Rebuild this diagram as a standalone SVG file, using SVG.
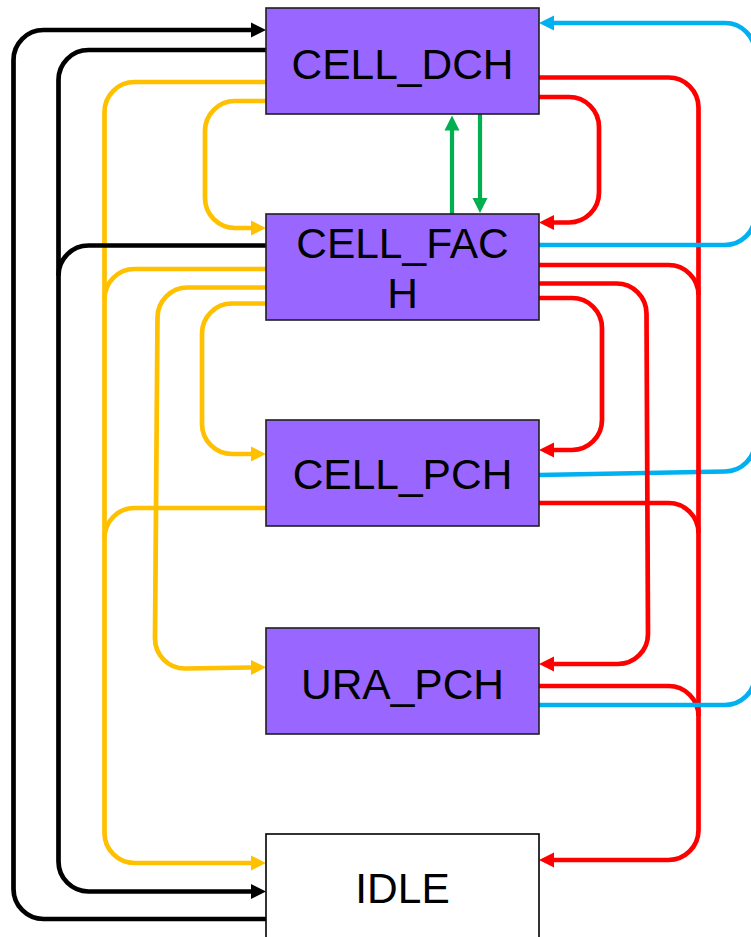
<svg xmlns="http://www.w3.org/2000/svg" width="751" height="937" viewBox="0 0 751 937">
<style>
.box{fill:#9966FF;stroke:#1f1f1f;stroke-width:1.6}
.idle{fill:#FFFFFF;stroke:#000000;stroke-width:1.6}
.lbl{font-family:"Liberation Sans",Arial,sans-serif;font-size:42.5px;fill:#000;text-anchor:middle}
.c{fill:none;stroke-width:4.7}
.k{stroke:#000000}
.y{stroke:#FFC000}
.r{stroke:#FF0000}
.b{stroke:#00B0F0}
.g{stroke:#00B050;stroke-width:4.2}
</style>
<defs>
<marker id="ak" markerUnits="userSpaceOnUse" markerWidth="16" markerHeight="16" viewBox="0 -8 16 16" refX="1" refY="0" orient="auto"><path d="M0,-7.5 L15,0 L0,7.5 Z" fill="#000000"/></marker>
<marker id="ay" markerUnits="userSpaceOnUse" markerWidth="16" markerHeight="16" viewBox="0 -8 16 16" refX="1" refY="0" orient="auto"><path d="M0,-7.5 L15,0 L0,7.5 Z" fill="#FFC000"/></marker>
<marker id="ar" markerUnits="userSpaceOnUse" markerWidth="16" markerHeight="16" viewBox="0 -8 16 16" refX="1" refY="0" orient="auto"><path d="M0,-7.5 L15,0 L0,7.5 Z" fill="#FF0000"/></marker>
<marker id="ab" markerUnits="userSpaceOnUse" markerWidth="16" markerHeight="16" viewBox="0 -8 16 16" refX="1" refY="0" orient="auto"><path d="M0,-7.5 L15,0 L0,7.5 Z" fill="#00B0F0"/></marker>
<marker id="ag" markerUnits="userSpaceOnUse" markerWidth="16" markerHeight="16" viewBox="0 -8 16 16" refX="1" refY="0" orient="auto"><path d="M0,-7.5 L15,0 L0,7.5 Z" fill="#00B050"/></marker>
</defs>
<g id="connectors">
<path class="c y" d="M266,82 H134.5 A30,30 0 0 0 104.5,112 V833 A30,30 0 0 0 134.5,863 H252" marker-end="url(#ay)"/>
<path class="c y" d="M266,269 H134.5 A30,30 0 0 0 104.5,299"/>
<path class="c y" d="M266,508 H134.5 A30,30 0 0 0 104.5,538"/>
<path class="c y" d="M266,101 H235 A30,30 0 0 0 205,131 V198 A30,30 0 0 0 235,228 H252" marker-end="url(#ay)"/>
<path class="c y" d="M266,287.5 H187.5 A30,30 0 0 0 157.5,317.5 L155,638 A30,30 0 0 0 185,668.5 L252,667.5" marker-end="url(#ay)"/>
<path class="c y" d="M266,303.5 H232 A30,30 0 0 0 202,333.5 V424 A30,30 0 0 0 232,454 H252" marker-end="url(#ay)"/>
<path class="c k" d="M266,919 H43.5 A30,30 0 0 1 13.5,889 V60 A30,30 0 0 1 43.5,30 H252" marker-end="url(#ak)"/>
<path class="c k" d="M266,50 H88.5 A30,30 0 0 0 58.5,80 V861.5 A30,30 0 0 0 88.5,891.5 H252" marker-end="url(#ak)"/>
<path class="c k" d="M266,245.5 H88.5 A30,30 0 0 0 58.5,275.5"/>
<path class="c b" d="M539,475 L725,471.5 A30,30 0 0 0 755,441.5 V215"/>
<path class="c r" d="M539,77.5 H668.5 A30,30 0 0 1 698.5,107.5 V830 A30,30 0 0 1 668.5,860 H553" marker-end="url(#ar)"/>
<path class="c r" d="M539,265 H668.5 A30,30 0 0 1 698.5,295"/>
<path class="c r" d="M539,503 H668.5 A30,30 0 0 1 698.5,533"/>
<path class="c r" d="M539,686 H668.5 A30,30 0 0 1 698.5,716"/>
<path class="c r" d="M539,97 H569 A30,30 0 0 1 599,127 V192.5 A30,30 0 0 1 569,222.5 H553" marker-end="url(#ar)"/>
<path class="c r" d="M539,283.5 H616.5 A30,30 0 0 1 646.5,313.5 L648,634 A30,30 0 0 1 618,664 H553" marker-end="url(#ar)"/>
<path class="c r" d="M539,298 H572 A30,30 0 0 1 602,328 V420 A30,30 0 0 1 572,450 H553" marker-end="url(#ar)"/>
<path class="c b" d="M539,245 H725 A30,30 0 0 0 755,215 V53 A30,30 0 0 0 725,23 H553" marker-end="url(#ab)"/>
<path class="c b" d="M539,705 H725 A30,30 0 0 0 755,675 V441"/>
<path class="c g" d="M452,214 V129.5" marker-end="url(#ag)"/>
<path class="c g" d="M480,114 V199" marker-end="url(#ag)"/>
</g>
<g id="CELL_DCH"><rect class="box" x="266" y="8" width="273" height="106"/><text class="lbl" x="402.5" y="78.5">CELL_DCH</text></g>
<g id="CELL_FACH"><rect class="box" x="266" y="214" width="273" height="106"/><text class="lbl" x="402.5" y="257.5">CELL_FAC</text><text class="lbl" x="402.5" y="308">H</text></g>
<g id="CELL_PCH"><rect class="box" x="266" y="420" width="273" height="106"/><text class="lbl" x="402.5" y="488.5">CELL_PCH</text></g>
<g id="URA_PCH"><rect class="box" x="266" y="628" width="273" height="106"/><text class="lbl" x="402.5" y="698.5">URA_PCH</text></g>
<g id="IDLE"><rect class="idle" x="266" y="834" width="273" height="106"/><text class="lbl" x="402.5" y="903">IDLE</text></g>
</svg>
